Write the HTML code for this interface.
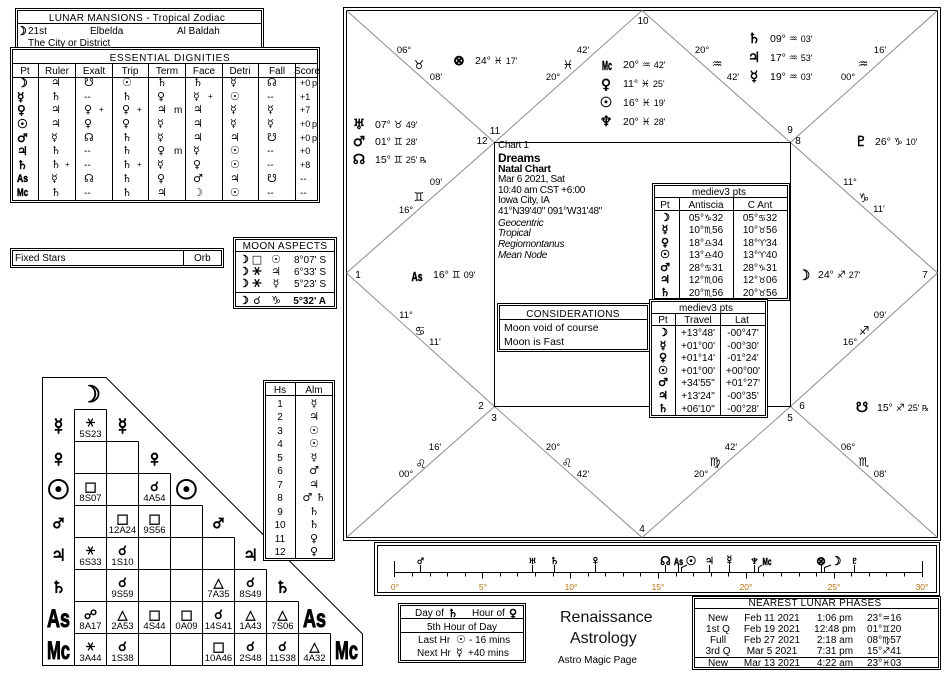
<!DOCTYPE html>
<html><head><meta charset="utf-8"><title>Renaissance Astrology Chart</title>
<style>
html,body{margin:0;padding:0;background:#fff;width:951px;height:686px;overflow:hidden}
svg{display:block}
text{font-family:"Liberation Sans","DejaVu Sans",sans-serif}
.g{font-family:"DejaVu Sans",sans-serif}
.b{font-weight:bold}
.s{font-size:9.5px}
.ln{stroke:#000;stroke-width:1;fill:none}
.gr line{stroke:#8c8c8c;stroke-width:1}
.bx{stroke:#000;stroke-width:1;fill:#fff}
.m{text-anchor:middle}
.e{text-anchor:end}
.sx{stroke:#000;stroke-width:1.3;fill:none}
.or{fill:#b87010}
.h{stroke:#000;stroke-width:0.5}
.hh{stroke:#000;stroke-width:1}
</style></head><body>
<svg width="951" height="686" viewBox="0 0 951 686" xmlns="http://www.w3.org/2000/svg" font-size="10" fill="#000">

<!-- ================= CHART ================= -->
<rect x="343.5" y="7.5" width="597" height="533" class="ln"/>
<rect x="346.5" y="10.5" width="591" height="527" class="ln"/>
<g class="gr">
<line x1="346.5" y1="10.5" x2="494.5" y2="142.5"/>
<line x1="642" y1="10.5" x2="494.5" y2="142.5"/>
<line x1="346.5" y1="273" x2="494.5" y2="142.5"/>
<line x1="642" y1="10.5" x2="790.5" y2="142.5"/>
<line x1="937.5" y1="10.5" x2="790.5" y2="142.5"/>
<line x1="937.5" y1="273" x2="790.5" y2="142.5"/>
<line x1="346.5" y1="273" x2="494.5" y2="406.5"/>
<line x1="346.5" y1="537.5" x2="494.5" y2="406.5"/>
<line x1="642" y1="537.5" x2="494.5" y2="406.5"/>
<line x1="642" y1="537.5" x2="790.5" y2="406.5"/>
<line x1="937.5" y1="537.5" x2="790.5" y2="406.5"/>
<line x1="937.5" y1="273" x2="790.5" y2="406.5"/>
</g>

<!-- house numbers -->
<text x="643" y="24" class="m">10</text>
<text x="495" y="134" class="m">11</text>
<text x="482" y="144" class="m">12</text>
<text x="790" y="133" class="m">9</text>
<text x="798" y="144" class="m">8</text>
<text x="358" y="278" class="m">1</text>
<text x="925" y="278" class="m">7</text>
<text x="481" y="409" class="m">2</text>
<text x="494" y="421" class="m">3</text>
<text x="642" y="532" class="m">4</text>
<text x="790" y="421" class="m">5</text>
<text x="802" y="409" class="m">6</text>

<!-- cusp labels -->
<text x="404" y="53" class="m s">06°</text><text x="419" y="69" class="m g" font-size="12">♉</text><text x="436" y="80" class="m s">08'</text>
<text x="436" y="185" class="m s">09'</text><text x="419" y="201" class="m g" font-size="12">♊</text><text x="406" y="213" class="m s">16°</text>
<text x="406" y="318" class="m s">11°</text><text x="420" y="335" class="m g" font-size="12">♋</text><text x="435" y="345" class="m s">11'</text>
<text x="435" y="450" class="m s">16'</text><text x="421" y="468" class="m g" font-size="12">♌</text><text x="406" y="477" class="m s">00°</text>
<text x="553" y="450" class="m s">20°</text><text x="567" y="467" class="m g" font-size="12">♌</text><text x="583" y="477" class="m s">42'</text>
<text x="731" y="450" class="m s">42'</text><text x="715" y="466" class="m g" font-size="12">♍</text><text x="701" y="477" class="m s">20°</text>
<text x="848" y="450" class="m s">06°</text><text x="864" y="466" class="m g" font-size="12">♏</text><text x="880" y="477" class="m s">08'</text>
<text x="880" y="318" class="m s">09'</text><text x="864" y="335" class="m g" font-size="12">♐</text><text x="850" y="345" class="m s">16°</text>
<text x="850" y="185" class="m s">11°</text><text x="864" y="202" class="m g" font-size="12">♑</text><text x="879" y="212" class="m s">11'</text>
<text x="880" y="53" class="m s">16'</text><text x="863" y="68" class="m g" font-size="12">♒</text><text x="848" y="80" class="m s">00°</text>
<text x="702" y="53" class="m s">20°</text><text x="717" y="68" class="m g" font-size="12">♒</text><text x="733" y="80" class="m s">42'</text>
<text x="583" y="53" class="m s">42'</text><text x="568" y="69" class="m g" font-size="12">♓</text><text x="553" y="80" class="m s">20°</text>

<!-- planets in chart -->
<text x="459" y="65" class="m g b h" font-size="14">⊗</text>
<text x="475" y="64" font-size="10.5">24° <tspan class="g" font-size="10">♓</tspan> <tspan font-size="9">17'</tspan></text>

<text x="607" y="70" class="m b h" font-size="13" textLength="10" lengthAdjust="spacingAndGlyphs">Mc</text>
<text x="623" y="68" font-size="10.5">20° <tspan class="g" font-size="10">♒</tspan> <tspan font-size="9">42'</tspan></text>
<text x="606" y="89" class="m g b h" font-size="14">♀</text>
<text x="623" y="87" font-size="10.5">11° <tspan class="g" font-size="10">♓</tspan> <tspan font-size="9">25'</tspan></text>
<text x="606" y="107" class="m g b h" font-size="14">☉</text>
<text x="623" y="106" font-size="10.5">16° <tspan class="g" font-size="10">♓</tspan> <tspan font-size="9">19'</tspan></text>
<text x="606" y="126" class="m g b h" font-size="14">♆</text>
<text x="623" y="125" font-size="10.5">20° <tspan class="g" font-size="10">♓</tspan> <tspan font-size="9">28'</tspan></text>

<text x="754" y="43" class="m g b h" font-size="14">♄</text>
<text x="770" y="42" font-size="10.5">09° <tspan class="g" font-size="10">♒</tspan> <tspan font-size="9">03'</tspan></text>
<text x="754" y="62" class="m g b h" font-size="14">♃</text>
<text x="770" y="61" font-size="10.5">17° <tspan class="g" font-size="10">♒</tspan> <tspan font-size="9">53'</tspan></text>
<text x="754" y="81" class="m g b h" font-size="14">☿</text>
<text x="770" y="80" font-size="10.5">19° <tspan class="g" font-size="10">♒</tspan> <tspan font-size="9">03'</tspan></text>

<text x="861" y="146" class="m g b h" font-size="14">♇</text>
<text x="875" y="145" font-size="10.5">26° <tspan class="g" font-size="10">♑</tspan> <tspan font-size="9">10'</tspan></text>

<text x="359" y="129" class="m g b h" font-size="14">♅</text>
<text x="375" y="128" font-size="10.5">07° <tspan class="g" font-size="10">♉</tspan> <tspan font-size="9">49'</tspan></text>
<text x="359" y="146" class="m g b h" font-size="14">♂</text>
<text x="375" y="145" font-size="10.5">01° <tspan class="g" font-size="10">♊</tspan> <tspan font-size="9">28'</tspan></text>
<text x="359" y="164" class="m g b h" font-size="14">☊</text>
<text x="375" y="163" font-size="10.5">15° <tspan class="g" font-size="10">♊</tspan> <tspan font-size="9">25' </tspan><tspan class="g" font-size="8">℞</tspan></text>

<text x="417" y="281" class="m b h" font-size="13" textLength="11" lengthAdjust="spacingAndGlyphs">As</text>
<text x="433" y="278" font-size="10.5">16° <tspan class="g" font-size="10">♊</tspan> <tspan font-size="9">09'</tspan></text>
<text x="804" y="280" class="m g b h" font-size="14">☽</text>
<text x="818" y="278" font-size="10.5">24° <tspan class="g" font-size="10">♐</tspan> <tspan font-size="9">27'</tspan></text>
<text x="862" y="412" class="m g b h" font-size="14">☋</text>
<text x="877" y="411" font-size="10.5">15° <tspan class="g" font-size="10">♐</tspan> <tspan font-size="9">25' </tspan><tspan class="g" font-size="8">℞</tspan></text>

<!-- chart info -->
<g letter-spacing="-0.3">
<text x="498" y="148">Chart 1</text>
<text x="498" y="162" class="b" font-size="12">Dreams</text>
<text x="498" y="172" class="b" font-size="10.5">Natal Chart</text>
<text x="498" y="182">Mar 6 2021, Sat</text>
<text x="498" y="193">10:40 am  CST +6:00</text>
<text x="498" y="203">Iowa City, IA</text>
<text x="498" y="214">41°N39'40" 091°W31'48"</text>
<text x="498" y="226" font-style="italic">Geocentric</text>
<text x="498" y="236" font-style="italic">Tropical</text>
<text x="498" y="247" font-style="italic">Regiomontanus</text>
<text x="498" y="258" font-style="italic">Mean Node</text>
</g>
<rect x="494.5" y="142.5" width="296" height="264" class="ln"/>

<!-- mediev3 table 1 -->
<rect x="652.5" y="183.5" width="137" height="117" class="bx"/>
<rect x="654.5" y="185.5" width="133" height="113" class="ln"/>
<text x="719" y="195" class="m">mediev3 pts</text>
<line x1="654.5" y1="197.5" x2="787.5" y2="197.5" class="ln"/>
<line x1="654.5" y1="210.5" x2="787.5" y2="210.5" class="ln"/>
<line x1="679.5" y1="197.5" x2="679.5" y2="298.5" class="ln"/>
<line x1="733.5" y1="197.5" x2="733.5" y2="298.5" class="ln"/>
<text x="665" y="208" class="m">Pt</text>
<text x="706" y="208" class="m">Antiscia</text>
<text x="760" y="208" class="m">C Ant</text>
<g class="h">
<text x="665" y="221" class="m g b" font-size="11">☽</text>
<text x="665" y="233" class="m g b" font-size="11">☿</text>
<text x="665" y="246" class="m g b" font-size="11">♀</text>
<text x="665" y="258" class="m g b" font-size="11">☉</text>
<text x="665" y="271" class="m g b" font-size="11">♂</text>
<text x="665" y="283" class="m g b" font-size="11">♃</text>
<text x="665" y="296" class="m g b" font-size="11">♄</text>
</g>
<text x="706" y="221" class="m">05°<tspan class="g" font-size="9">♑</tspan>32</text>
<text x="706" y="233" class="m">10°<tspan class="g" font-size="9">♏</tspan>56</text>
<text x="706" y="246" class="m">18°<tspan class="g" font-size="9">♎</tspan>34</text>
<text x="706" y="258" class="m">13°<tspan class="g" font-size="9">♎</tspan>40</text>
<text x="706" y="271" class="m">28°<tspan class="g" font-size="9">♋</tspan>31</text>
<text x="706" y="283" class="m">12°<tspan class="g" font-size="9">♏</tspan>06</text>
<text x="706" y="296" class="m">20°<tspan class="g" font-size="9">♏</tspan>56</text>
<text x="760" y="221" class="m">05°<tspan class="g" font-size="9">♋</tspan>32</text>
<text x="760" y="233" class="m">10°<tspan class="g" font-size="9">♉</tspan>56</text>
<text x="760" y="246" class="m">18°<tspan class="g" font-size="9">♈</tspan>34</text>
<text x="760" y="258" class="m">13°<tspan class="g" font-size="9">♈</tspan>40</text>
<text x="760" y="271" class="m">28°<tspan class="g" font-size="9">♑</tspan>31</text>
<text x="760" y="283" class="m">12°<tspan class="g" font-size="9">♉</tspan>06</text>
<text x="760" y="296" class="m">20°<tspan class="g" font-size="9">♉</tspan>56</text>

<!-- considerations -->
<rect x="497.5" y="303.5" width="152" height="48" class="bx"/>
<rect x="499.5" y="305.5" width="148" height="44" class="ln"/>
<text x="573" y="317" class="m" letter-spacing="0.3">CONSIDERATIONS</text>
<line x1="499.5" y1="319.5" x2="647.5" y2="319.5" class="ln"/>
<text x="504" y="331" font-size="10.5">Moon void of course</text>
<text x="504" y="345" font-size="10.5">Moon is Fast</text>

<!-- mediev3 table 2 -->
<rect x="649.5" y="299.5" width="118" height="118" class="bx"/>
<rect x="651.5" y="301.5" width="114" height="114" class="ln"/>
<text x="706" y="311" class="m">mediev3 pts</text>
<line x1="651.5" y1="313.5" x2="765.5" y2="313.5" class="ln"/>
<line x1="651.5" y1="325.5" x2="765.5" y2="325.5" class="ln"/>
<line x1="675.5" y1="313.5" x2="675.5" y2="415.5" class="ln"/>
<line x1="720.5" y1="313.5" x2="720.5" y2="415.5" class="ln"/>
<text x="663" y="323" class="m">Pt</text>
<text x="698" y="323" class="m">Travel</text>
<text x="742" y="323" class="m">Lat</text>
<g class="h">
<text x="663" y="336" class="m g b" font-size="11">☽</text>
<text x="663" y="349" class="m g b" font-size="11">☿</text>
<text x="663" y="361" class="m g b" font-size="11">♀</text>
<text x="663" y="374" class="m g b" font-size="11">☉</text>
<text x="663" y="386" class="m g b" font-size="11">♂</text>
<text x="663" y="399" class="m g b" font-size="11">♃</text>
<text x="663" y="412" class="m g b" font-size="11">♄</text>
</g>
<text x="698" y="336" class="m">+13°48'</text>
<text x="698" y="349" class="m">+01°00'</text>
<text x="698" y="361" class="m">+01°14'</text>
<text x="698" y="374" class="m">+01°00'</text>
<text x="698" y="386" class="m">+34'55"</text>
<text x="698" y="399" class="m">+13'24"</text>
<text x="698" y="412" class="m">+06'10"</text>
<text x="743" y="336" class="m">-00°47'</text>
<text x="743" y="349" class="m">-00°30'</text>
<text x="743" y="361" class="m">-01°24'</text>
<text x="743" y="374" class="m">+00°00'</text>
<text x="743" y="386" class="m">+01°27'</text>
<text x="743" y="399" class="m">-00°35'</text>
<text x="743" y="412" class="m">-00°28'</text>

<!-- ================= LEFT PANELS ================= -->
<!-- Lunar mansions -->
<rect x="15.5" y="8.5" width="248" height="44" class="bx"/>
<rect x="17.5" y="10.5" width="244" height="40" class="ln"/>
<text x="137" y="21" class="m" letter-spacing="0.3">LUNAR MANSIONS - Tropical Zodiac</text>
<line x1="17.5" y1="23.5" x2="261.5" y2="23.5" class="ln"/>
<text x="16" y="35" class="g b h" font-size="12">☽</text>
<text x="28" y="34">21st</text>
<text x="90" y="34">Elbelda</text>
<text x="177" y="34">Al Baldah</text>
<text x="28" y="46">The City or District</text>

<!-- Essential dignities -->
<rect x="10.5" y="47.5" width="309" height="155" class="bx"/>
<rect x="12.5" y="49.5" width="305" height="151" class="ln"/>
<text x="170" y="61" class="m" letter-spacing="0.7">ESSENTIAL DIGNITIES</text>
<line x1="12.5" y1="63.5" x2="317.5" y2="63.5" class="ln"/>
<line x1="12.5" y1="77.5" x2="317.5" y2="77.5" class="ln"/>
<g class="ln">
<line x1="38.5" y1="63.5" x2="38.5" y2="200.5"/>
<line x1="75.5" y1="63.5" x2="75.5" y2="200.5"/>
<line x1="112.5" y1="63.5" x2="112.5" y2="200.5"/>
<line x1="148.5" y1="63.5" x2="148.5" y2="200.5"/>
<line x1="185.5" y1="63.5" x2="185.5" y2="200.5"/>
<line x1="222.5" y1="63.5" x2="222.5" y2="200.5"/>
<line x1="258.5" y1="63.5" x2="258.5" y2="200.5"/>
<line x1="295.5" y1="63.5" x2="295.5" y2="200.5"/>
</g>
<text x="25" y="74" class="m">Pt</text>
<text x="57" y="74" class="m">Ruler</text>
<text x="94" y="74" class="m">Exalt</text>
<text x="130" y="74" class="m">Trip</text>
<text x="167" y="74" class="m">Term</text>
<text x="204" y="74" class="m">Face</text>
<text x="240" y="74" class="m">Detri</text>
<text x="277" y="74" class="m">Fall</text>
<text x="307" y="74" class="m">Score</text>

<g font-size="10">
<!-- Pt column -->
<g class="h">
<text x="17" y="87" class="g b" font-size="12">☽</text>
<text x="17" y="101" class="g b" font-size="12">☿</text>
<text x="17" y="114" class="g b" font-size="12">♀</text>
<text x="17" y="128" class="g b" font-size="12">☉</text>
<text x="17" y="142" class="g b" font-size="12">♂</text>
<text x="17" y="155" class="g b" font-size="12">♃</text>
<text x="17" y="169" class="g b" font-size="12">♄</text>
<text x="17" y="182" class="b" font-size="11" textLength="11" lengthAdjust="spacingAndGlyphs">As</text>
<text x="17" y="196" class="b" font-size="11" textLength="11" lengthAdjust="spacingAndGlyphs">Mc</text>
</g>
<!-- row moon -->
<text x="51" y="86" class="g" font-size="11">♃</text><text x="84" y="86" class="g" font-size="11">☋</text><text x="122" y="86" class="g" font-size="11">☉</text><text x="157" y="86" class="g" font-size="11">♄</text><text x="193" y="86" class="g" font-size="11">♄</text><text x="230" y="86" class="g" font-size="11">☿</text><text x="267" y="86" class="g" font-size="11">☊</text><text x="300" y="86" font-size="9">+0</text><text x="312" y="86" font-size="9">p</text>
<!-- row mercury -->
<text x="51" y="100" class="g" font-size="11">♄</text><text x="84" y="100">--</text><text x="122" y="100" class="g" font-size="11">♄</text><text x="157" y="100" class="g" font-size="11">♀</text><text x="193" y="100" class="g" font-size="11">☿</text><text x="208" y="99" font-size="8">+</text><text x="230" y="100" class="g" font-size="11">☉</text><text x="267" y="100">--</text><text x="300" y="100" font-size="9">+1</text>
<!-- row venus -->
<text x="51" y="113" class="g" font-size="11">♃</text><text x="84" y="113" class="g" font-size="11">♀</text><text x="99" y="112" font-size="8">+</text><text x="122" y="113" class="g" font-size="11">♀</text><text x="137" y="112" font-size="8">+</text><text x="157" y="113" class="g" font-size="11">♃</text><text x="174" y="113">m</text><text x="193" y="113" class="g" font-size="11">♃</text><text x="230" y="113" class="g" font-size="11">☿</text><text x="267" y="113" class="g" font-size="11">☿</text><text x="300" y="113" font-size="9">+7</text>
<!-- row sun -->
<text x="51" y="127" class="g" font-size="11">♃</text><text x="84" y="127" class="g" font-size="11">♀</text><text x="122" y="127" class="g" font-size="11">♀</text><text x="157" y="127" class="g" font-size="11">☿</text><text x="193" y="127" class="g" font-size="11">♃</text><text x="230" y="127" class="g" font-size="11">☿</text><text x="267" y="127" class="g" font-size="11">☿</text><text x="300" y="127" font-size="9">+0</text><text x="312" y="127" font-size="9">p</text>
<!-- row mars -->
<text x="51" y="141" class="g" font-size="11">☿</text><text x="84" y="141" class="g" font-size="11">☊</text><text x="122" y="141" class="g" font-size="11">♄</text><text x="157" y="141" class="g" font-size="11">☿</text><text x="193" y="141" class="g" font-size="11">♃</text><text x="230" y="141" class="g" font-size="11">♃</text><text x="267" y="141" class="g" font-size="11">☋</text><text x="300" y="141" font-size="9">+0</text><text x="312" y="141" font-size="9">p</text>
<!-- row jupiter -->
<text x="51" y="154" class="g" font-size="11">♄</text><text x="84" y="154">--</text><text x="122" y="154" class="g" font-size="11">♄</text><text x="157" y="154" class="g" font-size="11">♀</text><text x="174" y="154">m</text><text x="193" y="154" class="g" font-size="11">☿</text><text x="230" y="154" class="g" font-size="11">☉</text><text x="267" y="154">--</text><text x="300" y="154" font-size="9">+0</text>
<!-- row saturn -->
<text x="51" y="168" class="g" font-size="11">♄</text><text x="65" y="167" font-size="8">+</text><text x="84" y="168">--</text><text x="122" y="168" class="g" font-size="11">♄</text><text x="137" y="167" font-size="8">+</text><text x="157" y="168" class="g" font-size="11">☿</text><text x="193" y="168" class="g" font-size="11">♀</text><text x="230" y="168" class="g" font-size="11">☉</text><text x="267" y="168">--</text><text x="300" y="168" font-size="9">+8</text>
<!-- row As -->
<text x="51" y="182" class="g" font-size="11">☿</text><text x="84" y="182" class="g" font-size="11">☊</text><text x="122" y="182" class="g" font-size="11">♄</text><text x="157" y="182" class="g" font-size="11">♀</text><text x="193" y="182" class="g" font-size="11">♂</text><text x="230" y="182" class="g" font-size="11">♃</text><text x="267" y="182" class="g" font-size="11">☋</text><text x="300" y="182">--</text>
<!-- row Mc -->
<text x="51" y="196" class="g" font-size="11">♄</text><text x="84" y="196">--</text><text x="122" y="196" class="g" font-size="11">♄</text><text x="157" y="196" class="g" font-size="11">♃</text><text x="193" y="196" class="g" font-size="11">☽</text><text x="230" y="196" class="g" font-size="11">☉</text><text x="267" y="196">--</text><text x="300" y="196">--</text>
</g>

<!-- Fixed stars -->
<rect x="10.5" y="248.5" width="213" height="19" class="bx"/>
<rect x="12.5" y="250.5" width="209" height="15" class="ln"/>
<text x="15" y="261">Fixed Stars</text>
<line x1="183.5" y1="250.5" x2="183.5" y2="265.5" class="ln"/>
<text x="194" y="261">Orb</text>

<!-- Moon aspects -->
<rect x="233.5" y="237.5" width="103" height="71" class="bx"/>
<rect x="235.5" y="239.5" width="99" height="67" class="ln"/>
<text x="285" y="249" class="m" letter-spacing="0.4">MOON ASPECTS</text>
<line x1="235.5" y1="251.5" x2="334.5" y2="251.5" class="ln"/>
<line x1="235.5" y1="292.5" x2="334.5" y2="292.5" class="ln"/>
<text x="239" y="263" class="g h" font-size="11">☽</text><text x="257" y="263" class="m g" font-size="11">□</text><text x="276" y="263" class="m g" font-size="11">☉</text><text x="326" y="263" class="e">8°07' S</text>
<text x="239" y="275" class="g h" font-size="11">☽</text><path class="sx" d="M252.5 271H261.5M254.8 267.2L259.2 274.8M259.2 267.2L254.8 274.8"/><text x="276" y="275" class="m g" font-size="11">♃</text><text x="326" y="275" class="e">6°33' S</text>
<text x="239" y="287" class="g h" font-size="11">☽</text><path class="sx" d="M252.5 283H261.5M254.8 279.2L259.2 286.8M259.2 279.2L254.8 286.8"/><text x="276" y="287" class="m g" font-size="11">☿</text><text x="326" y="287" class="e">5°23' S</text>
<text x="239" y="304" class="g h" font-size="11">☽</text><text x="257" y="304" class="m g" font-size="11">☌</text><text x="276" y="304" class="m g" font-size="11">♑</text><text x="326" y="304" class="e b">5°32' A</text>

<!-- ================= ASPECT GRID ================= -->
<g class="ln">
<path d="M42.5 377.5H106L362.5 634V665.5H42.5Z"/>
<line x1="74.5" y1="409.5" x2="106.5" y2="409.5"/>
<line x1="74.5" y1="441.5" x2="138.5" y2="441.5"/>
<line x1="74.5" y1="473.5" x2="170.5" y2="473.5"/>
<line x1="74.5" y1="505.5" x2="202.5" y2="505.5"/>
<line x1="74.5" y1="537.5" x2="234.5" y2="537.5"/>
<line x1="74.5" y1="569.5" x2="266.5" y2="569.5"/>
<line x1="74.5" y1="601.5" x2="298.5" y2="601.5"/>
<line x1="74.5" y1="633.5" x2="330.5" y2="633.5"/>
<line x1="74.5" y1="409.5" x2="74.5" y2="665.5"/>
<line x1="106.5" y1="409.5" x2="106.5" y2="665.5"/>
<line x1="138.5" y1="441.5" x2="138.5" y2="665.5"/>
<line x1="170.5" y1="473.5" x2="170.5" y2="665.5"/>
<line x1="202.5" y1="505.5" x2="202.5" y2="665.5"/>
<line x1="234.5" y1="537.5" x2="234.5" y2="665.5"/>
<line x1="266.5" y1="569.5" x2="266.5" y2="665.5"/>
<line x1="298.5" y1="601.5" x2="298.5" y2="665.5"/>
<line x1="330.5" y1="633.5" x2="330.5" y2="665.5"/>
</g>

<!-- grid labels -->
<g class="g b hh" font-size="23">
<text x="90.5" y="402" class="m">☽</text>
<text x="58.5" y="434" class="m">☿</text>
<text x="58.5" y="466" class="m">♀</text>
<text x="58.5" y="499" class="m" font-size="27">☉</text>
<text x="58.5" y="530" class="m">♂</text>
<text x="58.5" y="562" class="m">♃</text>
<text x="58.5" y="594" class="m">♄</text>
<text x="122.5" y="434" class="m">☿</text>
<text x="154.5" y="466" class="m">♀</text>
<text x="186.5" y="499" class="m" font-size="27">☉</text>
<text x="218.5" y="530" class="m">♂</text>
<text x="250.5" y="562" class="m">♃</text>
<text x="282.5" y="594" class="m">♄</text>
</g>
<g class="hh">
<text x="47" y="627" textLength="23" lengthAdjust="spacingAndGlyphs" class="b" font-size="25">As</text>
<text x="47" y="659" textLength="23" lengthAdjust="spacingAndGlyphs" class="b" font-size="25">Mc</text>
<text x="303" y="627" textLength="23" lengthAdjust="spacingAndGlyphs" class="b" font-size="25">As</text>
<text x="335" y="659" textLength="23" lengthAdjust="spacingAndGlyphs" class="b" font-size="25">Mc</text>
</g>

<!-- grid cells -->
<g font-size="9.5">
<path class="sx" d="M86 422.5H95M88.2 418.6L92.8 426.4M92.8 418.6L88.2 426.4"/><text x="90.5" y="437" class="m">5S23</text>
<text x="90.5" y="491" class="m g b h" font-size="13">□</text><text x="90.5" y="501" class="m">8S07</text>
<text x="154.5" y="491" class="m g b h" font-size="13">☌</text><text x="154.5" y="501" class="m">4A54</text>
<text x="122.5" y="523" class="m g b h" font-size="13">□</text><text x="122.5" y="533" class="m">12A24</text>
<text x="154.5" y="523" class="m g b h" font-size="13">□</text><text x="154.5" y="533" class="m">9S56</text>
<path class="sx" d="M86 550.5H95M88.2 546.6L92.8 554.4M92.8 546.6L88.2 554.4"/><text x="90.5" y="565" class="m">6S33</text>
<text x="122.5" y="555" class="m g b h" font-size="13">☌</text><text x="122.5" y="565" class="m">1S10</text>
<text x="122.5" y="587" class="m g b h" font-size="13">☌</text><text x="122.5" y="597" class="m">9S59</text>
<text x="218.5" y="587" class="m g b h" font-size="13">△</text><text x="218.5" y="597" class="m">7A35</text>
<text x="250.5" y="587" class="m g b h" font-size="13">☌</text><text x="250.5" y="597" class="m">8S49</text>
<text x="90.5" y="619" class="m g b h" font-size="13">☍</text><text x="90.5" y="629" class="m">8A17</text>
<text x="122.5" y="619" class="m g b h" font-size="13">△</text><text x="122.5" y="629" class="m">2A53</text>
<text x="154.5" y="619" class="m g b h" font-size="13">□</text><text x="154.5" y="629" class="m">4S44</text>
<text x="186.5" y="619" class="m g b h" font-size="13">□</text><text x="186.5" y="629" class="m">0A09</text>
<text x="218.5" y="619" class="m g b h" font-size="13">☌</text><text x="218.5" y="629" class="m">14S41</text>
<text x="250.5" y="619" class="m g b h" font-size="13">△</text><text x="250.5" y="629" class="m">1A43</text>
<text x="282.5" y="619" class="m g b h" font-size="13">△</text><text x="282.5" y="629" class="m">7S06</text>
<path class="sx" d="M86 646.5H95M88.2 642.6L92.8 650.4M92.8 642.6L88.2 650.4"/><text x="90.5" y="661" class="m">3A44</text>
<text x="122.5" y="651" class="m g b h" font-size="13">☌</text><text x="122.5" y="661" class="m">1S38</text>
<text x="218.5" y="651" class="m g b h" font-size="13">□</text><text x="218.5" y="661" class="m">10A46</text>
<text x="250.5" y="651" class="m g b h" font-size="13">☌</text><text x="250.5" y="661" class="m">2S48</text>
<text x="282.5" y="651" class="m g b h" font-size="13">☌</text><text x="282.5" y="661" class="m">11S38</text>
<text x="314.5" y="651" class="m g b h" font-size="13">△</text><text x="314.5" y="661" class="m">4A32</text>
</g>

<!-- Hs / Alm -->
<rect x="263.5" y="380.5" width="71" height="180" class="bx"/>
<rect x="265.5" y="382.5" width="67" height="176" class="ln"/>
<text x="280" y="393" class="m">Hs</text>
<text x="314" y="393" class="m">Alm</text>
<line x1="265.5" y1="395.5" x2="332.5" y2="395.5" class="ln"/>
<line x1="295.5" y1="382.5" x2="295.5" y2="558.5" class="ln"/>
<g font-size="10">
<text x="280" y="407" class="m">1</text><text x="314" y="407" class="m g" font-size="11">☿</text>
<text x="280" y="420" class="m">2</text><text x="314" y="420" class="m g" font-size="11">♃</text>
<text x="280" y="434" class="m">3</text><text x="314" y="434" class="m g" font-size="11">☉</text>
<text x="280" y="447" class="m">4</text><text x="314" y="447" class="m g" font-size="11">☉</text>
<text x="280" y="461" class="m">5</text><text x="314" y="461" class="m g" font-size="11">☿</text>
<text x="280" y="474" class="m">6</text><text x="314" y="474" class="m g" font-size="11">♂</text>
<text x="280" y="488" class="m">7</text><text x="314" y="488" class="m g" font-size="11">♃</text>
<text x="280" y="501" class="m">8</text><text x="314" y="501" class="m g" font-size="11">♂ ♄</text>
<text x="280" y="515" class="m">9</text><text x="314" y="515" class="m g" font-size="11">♄</text>
<text x="280" y="528" class="m">10</text><text x="314" y="528" class="m g" font-size="11">♄</text>
<text x="280" y="542" class="m">11</text><text x="314" y="542" class="m g" font-size="11">♀</text>
<text x="280" y="555" class="m">12</text><text x="314" y="555" class="m g" font-size="11">♀</text>
</g>

<!-- ================= RULER STRIP ================= -->
<rect x="374.5" y="542.5" width="565" height="53" class="bx"/>
<rect x="377.5" y="545.5" width="559" height="47" class="ln"/>
<g class="ln">
<line x1="394.5" y1="572.5" x2="922.5" y2="572.5"/>
<line x1="394.5" y1="561" x2="394.5" y2="577"/>
<line x1="922.5" y1="561" x2="922.5" y2="577"/>
<path d="M412.5 572.5v4M430.5 572.5v4M447.5 572.5v4M465.5 572.5v4M482.5 572.5v6M500.5 572.5v4M517.5 572.5v4M535.5 572.5v4M553.5 572.5v4M570.5 572.5v6M588.5 572.5v4M605.5 572.5v4M623.5 572.5v4M640.5 572.5v4M658.5 572.5v6M676.5 572.5v4M693.5 572.5v4M711.5 572.5v4M728.5 572.5v4M746.5 572.5v6M763.5 572.5v4M781.5 572.5v4M799.5 572.5v4M816.5 572.5v4M834.5 572.5v6M851.5 572.5v4M869.5 572.5v4M886.5 572.5v4M904.5 572.5v4"/>
<path d="M420.5 565v7.5M532.5 565v7.5M554.5 565v7.5M595.5 565v7.5M665.5 565v7.5M678.5 565v7.5M709.5 565v7.5M729.5 565v7.5M754.5 565v7.5M821.5 565v7.5M854.5 565v7.5"/>
<path d="M681.5 572.5V567.5L687 565M758.5 572.5V567.5L762 565M824.5 572.5V567.5L831 565"/>
</g>
<g class="g b h" font-size="14">
<text x="420.5" y="565" class="m">♂</text>
<text x="532.5" y="565" class="m">♅</text>
<text x="554.5" y="565" class="m">♄</text>
<text x="595.5" y="565" class="m">♀</text>
<text x="665.5" y="565" class="m" font-size="12">☊</text>
<text x="691" y="565" class="m" font-size="12">☉</text>
<text x="709.5" y="565" class="m">♃</text>
<text x="729.5" y="565" class="m">☿</text>
<text x="754.5" y="565" class="m">♆</text>
<text x="821" y="565" class="m" font-size="12">⊗</text>
<text x="836" y="565" class="m" font-size="12">☽</text>
<text x="854.5" y="565" class="m">♇</text>
</g>
<text x="678.5" y="565" class="m b h" font-size="10" textLength="9" lengthAdjust="spacingAndGlyphs">As</text>
<text x="767" y="565" class="m b h" font-size="10" textLength="9" lengthAdjust="spacingAndGlyphs">Mc</text>
<g font-size="8.5">
<text x="395" y="590" class="m or">0°</text>
<text x="483" y="590" class="m or">5°</text>
<text x="571" y="590" class="m or">10°</text>
<text x="658" y="590" class="m or">15°</text>
<text x="746" y="590" class="m or">20°</text>
<text x="834" y="590" class="m or">25°</text>
<text x="922" y="590" class="m or">30°</text>
</g>

<!-- ================= DAY / HOUR ================= -->
<rect x="398.5" y="603.5" width="127" height="59" class="bx"/>
<rect x="400.5" y="605.5" width="123" height="55" class="ln"/>
<text x="415" y="616">Day of</text><text x="448" y="617" class="g b h" font-size="11">♄</text><text x="472" y="616">Hour of</text><text x="509" y="617" class="g b h" font-size="11">♀</text>
<line x1="400.5" y1="618.5" x2="523.5" y2="618.5" class="ln"/>
<text x="462" y="630" class="m">5th Hour of Day</text>
<line x1="400.5" y1="632.5" x2="523.5" y2="632.5" class="ln"/>
<text x="418" y="643">Last Hr</text><text x="456" y="643" class="g" font-size="11">☉</text><text x="469" y="643">- 16 mins</text>
<text x="417" y="656">Next Hr</text><text x="456" y="656" class="g" font-size="11">☿</text><text x="468" y="656">+40 mins</text>

<!-- Renaissance Astrology -->
<text x="560" y="622" font-size="16" fill="#111">Renaissance</text>
<text x="570" y="643" font-size="16" fill="#111">Astrology</text>
<text x="558" y="663" font-size="10">Astro Magic Page</text>

<!-- ================= LUNAR PHASES ================= -->
<rect x="692.5" y="596.5" width="248" height="73" class="bx"/>
<rect x="694.5" y="598.5" width="244" height="69" class="ln"/>
<text x="815" y="606" class="m" letter-spacing="0.3">NEAREST LUNAR PHASES</text>
<line x1="694.5" y1="608.5" x2="938.5" y2="608.5" class="ln"/>
<text x="718" y="621" class="m">New</text><text x="772" y="621" class="m">Feb 11 2021</text><text x="835" y="621" class="m">1:06 pm</text><text x="867" y="621">23°<tspan class="g" font-size="9">♒</tspan>16</text>
<text x="718" y="632" class="m">1st Q</text><text x="772" y="632" class="m">Feb 19 2021</text><text x="835" y="632" class="m">12:48 pm</text><text x="867" y="632">01°<tspan class="g" font-size="9">♊</tspan>20</text>
<text x="718" y="643" class="m">Full</text><text x="772" y="643" class="m">Feb 27 2021</text><text x="835" y="643" class="m">2:18 am</text><text x="867" y="643">08°<tspan class="g" font-size="9">♍</tspan>57</text>
<text x="718" y="654" class="m">3rd Q</text><text x="772" y="654" class="m">Mar 5 2021</text><text x="835" y="654" class="m">7:31 pm</text><text x="867" y="654">15°<tspan class="g" font-size="9">♐</tspan>41</text>
<line x1="694.5" y1="657.5" x2="938.5" y2="657.5" class="ln"/>
<text x="718" y="666" class="m">New</text><text x="772" y="666" class="m">Mar 13 2021</text><text x="835" y="666" class="m">4:22 am</text><text x="867" y="666">23°<tspan class="g" font-size="9">♓</tspan>03</text>

</svg>
</body></html>
